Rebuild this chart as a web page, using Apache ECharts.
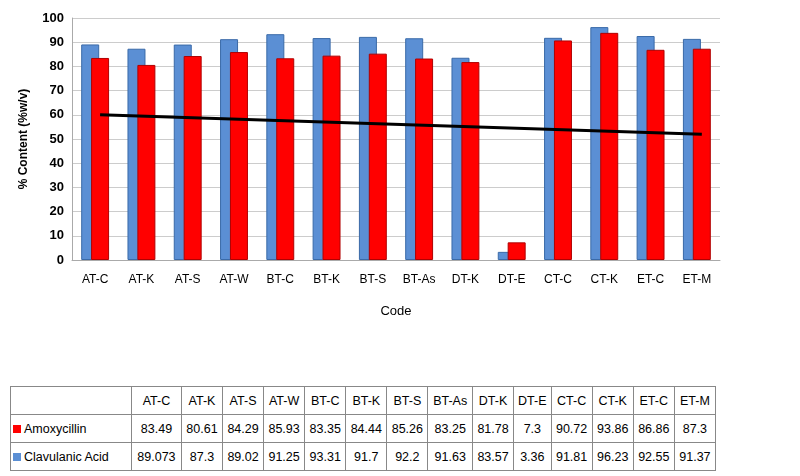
<!DOCTYPE html>
<html>
<head>
<meta charset="utf-8">
<script src="https://cdn.jsdelivr.net/npm/echarts@6/dist/echarts.min.js"></script>
<style>
body { margin: 0; background: #fff; font-family: "Liberation Sans", Arial, sans-serif; }
#chart { position: absolute; left: 0; top: 0; width: 800px; height: 330px; }
table { position: absolute; left: 10px; top: 386px; width: 706px; border-collapse: collapse; font-size: 12.5px; background: #fff; }
td { border: 1px solid #888; height: 27px; text-align: center; padding: 0; }
td.name { text-align: left; width: 118px; white-space: nowrap; padding-left: 2px; }
.key { display: inline-block; width: 8px; height: 8px; margin-right: 3px; }
</style>
</head>
<body>
<div id="chart"></div>
<table id="tbl"></table>
<script>
var codes = ['AT-C', 'AT-K', 'AT-S', 'AT-W', 'BT-C', 'BT-K', 'BT-S', 'BT-As', 'DT-K', 'DT-E', 'CT-C', 'CT-K', 'ET-C', 'ET-M'];
var amoxText = ['83.49', '80.61', '84.29', '85.93', '83.35', '84.44', '85.26', '83.25', '81.78', '7.3', '90.72', '93.86', '86.86', '87.3'];
var clavText = ['89.073', '87.3', '89.02', '91.25', '93.31', '91.7', '92.2', '91.63', '83.57', '3.36', '91.81', '96.23', '92.55', '91.37'];
var amoxicillin = amoxText.map(Number);
var clavulanic = clavText.map(Number);
var yTicks = [0, 10, 20, 30, 40, 50, 60, 70, 80, 90, 100];

var myChart = echarts.init(document.getElementById('chart'));
var option = {
    animation: false,
    grid: { left: 72, right: 80, top: 18, bottom: 70 },
    xAxis: {
        type: 'category',
        data: codes,
        name: 'Code',
        nameLocation: 'middle',
        nameGap: 45,
        nameTextStyle: { color: '#000', fontSize: 13 },
        axisLine: { lineStyle: { color: '#aaa' } },
        axisTick: { show: false },
        axisLabel: { color: '#000', fontSize: 12, margin: 14 }
    },
    yAxis: {
        type: 'value',
        min: 0, max: 100, interval: 10,
        name: '% Content (%w/v)',
        nameLocation: 'middle',
        nameGap: 42,
        nameTextStyle: { color: '#000', fontSize: 12, fontWeight: 'bold' },
        axisLine: { show: true, lineStyle: { color: '#aaa' } },
        axisLabel: { color: '#000', fontSize: 13, fontWeight: 'bold' },
        splitLine: { lineStyle: { color: '#ccc' } }
    },
    series: [{
        name: 'Clavulanic Acid',
        type: 'bar',
        data: clavulanic,
        barWidth: 18,
        barGap: '-45%',
        itemStyle: { color: '#5b8fd4', borderColor: '#3a6aa8', borderWidth: 1 }
    }, {
        name: 'Amoxycillin',
        type: 'bar',
        data: amoxicillin,
        barWidth: 18,
        itemStyle: { color: '#ff0000', borderColor: '#b00000', borderWidth: 1 },
        markLine: {
            symbol: 'none',
            silent: true,
            label: { show: false },
            lineStyle: { color: '#000', width: 3, type: 'solid' },
            data: [[{ coord: [0, 60] }, { coord: [13, 52] }]]
        }
    }]
};
myChart.setOption(option);

// data table
var html = '<tr><td class="name"></td>';
codes.forEach(function (c) { html += '<td>' + c + '</td>'; });
html += '</tr><tr><td class="name"><span class="key" style="background:#ff0000"></span>Amoxycillin</td>';
amoxText.forEach(function (v) { html += '<td>' + v + '</td>'; });
html += '</tr><tr><td class="name"><span class="key" style="background:#5b8fd4"></span>Clavulanic Acid</td>';
clavText.forEach(function (v) { html += '<td>' + v + '</td>'; });
html += '</tr>';
document.getElementById('tbl').innerHTML = html;
</script>
</body>
</html>
